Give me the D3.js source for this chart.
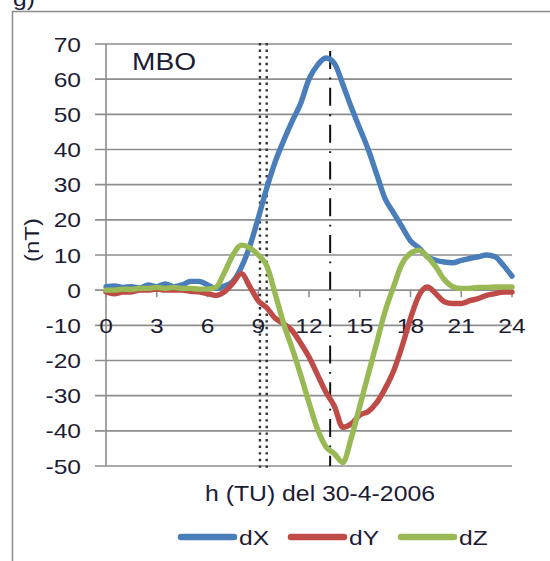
<!DOCTYPE html>
<html><head><meta charset="utf-8">
<script src="https://cdn.jsdelivr.net/npm/d3@7/dist/d3.min.js"></script>
<style>
html,body{margin:0;padding:0;background:#fff;}
svg{display:block;}
text{font-family:"Liberation Sans",Arial,sans-serif;fill:#1c1c34;}
</style></head>
<body>
<svg id="chart" width="550" height="561"></svg>
<script>
// ---- data ----
const hours = [0,0.5,1,1.5,2,2.5,3,3.5,4,4.5,5,5.5,6,6.5,7,7.5,8,8.5,9,9.5,10,10.5,11,11.5,12,12.5,13,13.5,14,14.5,15,15.5,16,16.5,17,17.5,18,18.5,19,19.5,20,20.5,21,21.5,22,22.5,23,23.5,24];
const dX = [1,1.2,0.8,1,0.6,1.5,1,1.8,1,1.5,2.5,2.5,1.5,0.5,1.2,2.5,6.5,12.5,20.5,29,36.5,42.5,48,53,60,64,66,64.5,58.5,52,46,40,33,26,22,18,14,12,9.5,8.5,8,7.8,8.5,9,9.5,10,9.5,7,4];
const dY = [-0.5,-1,-0.5,-0.5,0,0,0.3,0,0,0,-0.3,-0.5,-1,-1.5,-0.5,2,4.7,1,-3,-5,-8,-9.5,-11.5,-15,-19,-24,-29,-33,-39,-38,-35.5,-34.5,-32,-28,-23,-16,-8,-1.5,0.9,-1,-3.3,-3.8,-3.8,-3,-2.4,-1.5,-1,-0.5,-0.5];
const dZ = [0,0,0.3,0.2,0.5,0.5,0.8,0.5,0.8,0.5,0.5,0.3,0.3,0.8,5,10,12.8,12,10,7,-1,-9.5,-16.5,-24,-32,-39.5,-44.5,-46.5,-49,-42,-33,-24,-15,-6,1,7.5,10.5,11.4,9.5,6.6,3,1,0.5,0.5,0.8,0.8,0.9,0.9,0.9];
const seriesNames = ["dX","dY","dZ"];
const seriesColors = ["#4a7ebb","#be4b48","#98b954"];
const xTicks = [0,3,6,9,12,15,18,21,24];
const yTicks = [70,60,50,40,30,20,10,0,-10,-20,-30,-40,-50];
const dottedMarks = [9.1,9.5];
const dashedMarks = [13.25];
const stationLabel = "MBO";
const panelLabel = "g)";
const yTitle = "(nT)";
const xTitle = "h (TU) del 30-4-2006";

// ---- layout ----
const svg = d3.select("#chart");
const x = d3.scaleLinear().domain([0,24]).range([106,512]);
const y = d3.scaleLinear().domain([-50,70]).range([466,44]);
const gridColor = "#8e8e8e";
const STRETCH = 1.17;
function stretch(sel){
  sel.each(function(){
    const len = this.getComputedTextLength();
    d3.select(this).attr("textLength",len*STRETCH).attr("lengthAdjust","spacingAndGlyphs");
  });
}

// outer frame
svg.append("path").attr("d","M12.5,561 L12.5,11.5 L550,11.5")
  .attr("fill","none").attr("stroke","#8c8c8c").attr("stroke-width",1.5);
svg.append("text").attr("x",13).attr("y",6).attr("font-size",21).text(panelLabel).call(stretch);

// horizontal gridlines (with tick stubs to the left)
svg.append("g").selectAll("line").data(yTicks).join("line")
  .attr("x1",95).attr("x2",x(24))
  .attr("y1",d=>y(d)).attr("y2",d=>y(d))
  .attr("stroke",gridColor).attr("stroke-width",1.6);
// y axis line
svg.append("line").attr("x1",x(0)).attr("x2",x(0)).attr("y1",y(70)).attr("y2",y(-50))
  .attr("stroke",gridColor).attr("stroke-width",1.6);
// x tick stubs at y=0
svg.append("g").selectAll("line").data(xTicks).join("line")
  .attr("x1",d=>x(d)).attr("x2",d=>x(d))
  .attr("y1",y(0)).attr("y2",y(0)+7)
  .attr("stroke",gridColor).attr("stroke-width",1.6);

// y tick labels
svg.append("g").selectAll("text").data(yTicks).join("text")
  .attr("y",d=>y(d)).attr("dy","0.36em")
  .attr("font-size",21)
  .text(d=>d)
  .call(stretch)
  .attr("x",function(){ return 81 - (+this.getAttribute("textLength")); });
// x tick labels (centered on the -10 gridline)
svg.append("g").selectAll("text").data(xTicks).join("text")
  .attr("y",y(-10)).attr("dy","0.36em")
  .attr("font-size",21)
  .text(d=>d)
  .call(stretch)
  .attr("x",function(d){ return x(d) - (+this.getAttribute("textLength"))/2; });

// vertical markers
svg.append("g").selectAll("line").data(dottedMarks).join("line")
  .attr("x1",d=>x(d)).attr("x2",d=>x(d)).attr("y1",y(70)-1).attr("y2",y(-50)+3)
  .attr("stroke","#333").attr("stroke-width",2.4).attr("stroke-dasharray","2.4,4.2");
svg.append("g").selectAll("line").data(dashedMarks).join("line")
  .attr("x1",d=>x(d)).attr("x2",d=>x(d)).attr("y1",y(68)).attr("y2",y(-50))
  .attr("stroke","#111").attr("stroke-width",2).attr("stroke-dasharray","18,8.5,1.8,8.5");

// series
const allSeries = [dX,dY,dZ];
const line = d3.line().x((d,i)=>x(hours[i])).y(d=>y(d)).curve(d3.curveMonotoneX);
svg.append("g").selectAll("path").data(allSeries).join("path")
  .attr("d",d=>line(d)).attr("fill","none")
  .attr("stroke",(d,i)=>seriesColors[i]).attr("stroke-width",5.4)
  .attr("stroke-linejoin","round").attr("stroke-linecap","round");

// station label
svg.append("text").attr("x",132).attr("y",y(65)).attr("dy","0.36em")
  .attr("font-size",23).text(stationLabel).attr("textLength",64).attr("lengthAdjust","spacingAndGlyphs");

// axis titles
svg.append("text").attr("transform","translate(39,240) rotate(-90)")
  .attr("text-anchor","middle").attr("font-size",21).attr("textLength",44).attr("lengthAdjust","spacingAndGlyphs").text(yTitle);
svg.append("text").attr("x",320).attr("y",493).attr("dy","0.36em")
  .attr("text-anchor","middle").attr("font-size",22).attr("textLength",230).attr("lengthAdjust","spacingAndGlyphs").text(xTitle);

// legend
const legX = [178,288,398];
const leg = svg.append("g").selectAll("g").data(seriesNames).join("g")
  .attr("transform",(d,i)=>`translate(${legX[i]},537)`);
leg.append("line").attr("x1",3).attr("x2",56).attr("y1",0).attr("y2",0)
  .attr("stroke",(d,i)=>seriesColors[i]).attr("stroke-width",6.5).attr("stroke-linecap","round");
leg.append("text").attr("x",61).attr("y",0).attr("dy","0.36em").attr("font-size",21).text(d=>d).call(stretch);
</script>
</body></html>
